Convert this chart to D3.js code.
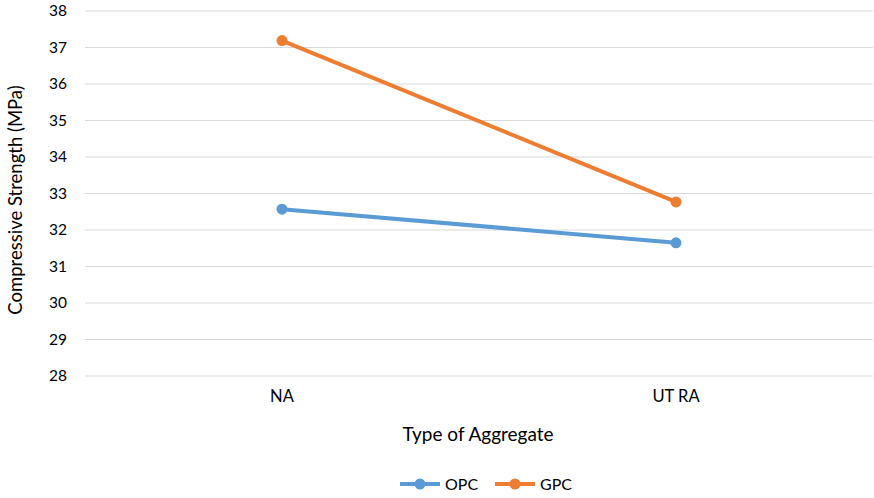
<!DOCTYPE html>
<html>
<head>
<meta charset="utf-8">
<script src="https://cdn.jsdelivr.net/npm/d3@7"></script>
<style>
  body { margin: 0; background: #fff; }
  svg text { font-family: Lato, "Open Sans", sans-serif; fill: #000; }
</style>
</head>
<body>
<div id="chart"></div>
<script>
// ------- Data -------
const categories = ["NA", "UT RA"];
const opcValues = [32.57, 31.65];
const gpcValues = [37.19, 32.77];
const yTicks = [28, 29, 30, 31, 32, 33, 34, 35, 36, 37, 38];
const seriesNames = ["OPC", "GPC"];
const seriesColors = ["#5B9BD5", "#ED7D31"];

let width = 874, height = 498;
let margin = {left: 85, right: 1, top: 11, bottom: 122};

let svg = d3.select("#chart").append("svg")
    .attr("width", width)
    .attr("height", height);

let xScale = d3.scaleBand()
    .domain(categories)
    .range([margin.left, width - margin.right]);

let yScale = d3.scaleLinear()
    .domain([28, 38])
    .range([height - margin.bottom, margin.top]);

// gridlines
svg.append("g")
   .selectAll("line")
   .data(yTicks)
   .enter().append("line")
   .attr("x1", margin.left)
   .attr("x2", width - margin.right)
   .attr("y1", d => yScale(d))
   .attr("y2", d => yScale(d))
   .attr("stroke", "#d9d9d9")
   .attr("stroke-width", 1);

// y axis labels
let yAxis = svg.append("g")
   .attr("transform", `translate(${margin.left}, 0)`)
   .call(d3.axisLeft(yScale).tickValues(yTicks).tickSize(0).tickPadding(18));
yAxis.select(".domain").remove();
yAxis.selectAll("text").style("font-size", "15.5px").attr("fill", "#000");

// x axis labels
let xAxis = svg.append("g")
   .attr("transform", `translate(0, ${height - margin.bottom})`)
   .call(d3.axisBottom(xScale).tickSize(0).tickPadding(14));
xAxis.select(".domain").remove();
xAxis.selectAll("text").style("font-size", "16.5px").attr("fill", "#000");

// axis titles
svg.append("text")
   .attr("x", (margin.left + width - margin.right) / 2 - 1)
   .attr("y", 441)
   .attr("text-anchor", "middle")
   .style("font-size", "19px")
   .text("Type of Aggregate");

svg.append("text")
   .attr("transform", `translate(22, 200) rotate(-90)`)
   .attr("text-anchor", "middle")
   .style("font-size", "18.5px")
   .text("Compressive Strength (MPa)");

// lines
let series = [opcValues, gpcValues];
let line = d3.line()
   .x((d, i) => xScale(categories[i]) + xScale.bandwidth() / 2)
   .y(d => yScale(d));

series.forEach((vals, s) => {
  svg.append("path")
     .datum(vals)
     .attr("d", line)
     .attr("fill", "none")
     .attr("stroke", seriesColors[s])
     .attr("stroke-width", 4)
     .attr("stroke-linecap", "round");
  svg.append("g")
     .selectAll("circle")
     .data(vals)
     .enter().append("circle")
     .attr("cx", (d, i) => xScale(categories[i]) + xScale.bandwidth() / 2)
     .attr("cy", d => yScale(d))
     .attr("r", 5.5)
     .attr("fill", seriesColors[s]);
});

// legend
let legendX = [400, 495];
let legend = svg.append("g");
seriesNames.forEach((name, i) => {
  let g = legend.append("g").attr("transform", `translate(${legendX[i]}, 484)`);
  g.append("line")
   .attr("x1", 0).attr("x2", 40)
   .attr("y1", 0).attr("y2", 0)
   .attr("stroke", seriesColors[i])
   .attr("stroke-width", 4);
  g.append("circle")
   .attr("cx", 20).attr("cy", 0).attr("r", 5.5)
   .attr("fill", seriesColors[i]);
  g.append("text")
   .attr("x", 45).attr("y", 6)
   .style("font-size", "16px")
   .text(name);
});
</script>
</body>
</html>
